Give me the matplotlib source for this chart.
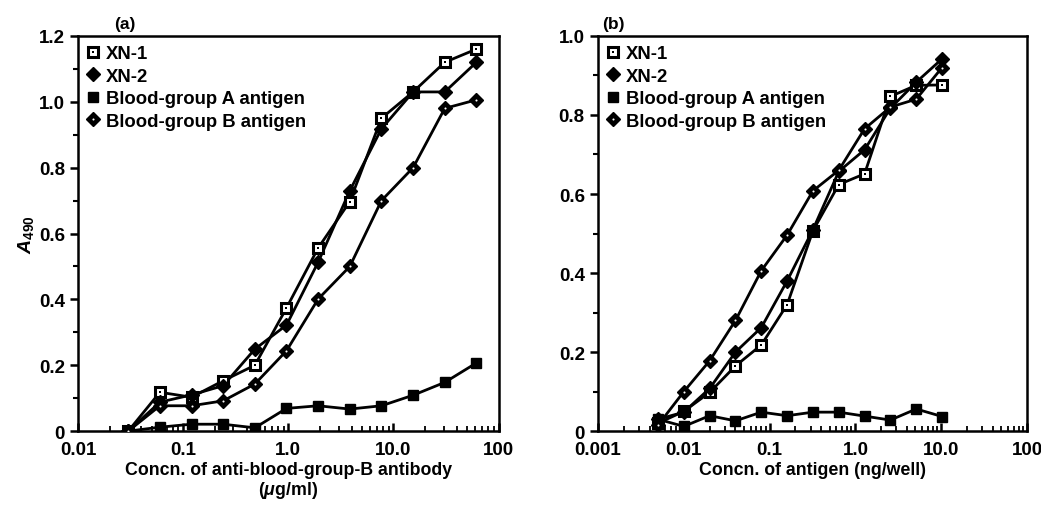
import matplotlib.pyplot as plt
import numpy as np
from matplotlib.ticker import FixedLocator, NullFormatter

plt.rcParams['font.family'] = ['Liberation Sans', 'DejaVu Sans']
plt.rcParams['mathtext.fontset'] = 'custom'
plt.rcParams['mathtext.rm'] = 'Liberation Sans:bold'
plt.rcParams['mathtext.it'] = 'Liberation Sans:italic:bold'
plt.rcParams['mathtext.bf'] = 'Liberation Sans:bold'

# (a) anti-blood-group-B antibody, ug/ml
conc_a = [0.03, 0.06, 0.12, 0.24, 0.48, 0.96, 1.92, 3.84, 7.68, 15.36, 30.72, 61.44]
xn1_a = [0.0, 0.118, 0.103, 0.153, 0.20, 0.374, 0.556, 0.697, 0.95, 1.03, 1.12, 1.16]
xn2_a = [0.0, 0.088, 0.11, 0.138, 0.249, 0.322, 0.513, 0.73, 0.918, 1.03, 1.03, 1.12]
bga_a = [0.0, 0.012, 0.021, 0.021, 0.01, 0.069, 0.077, 0.067, 0.077, 0.109, 0.148, 0.207]
bgb_a = [0.0, 0.077, 0.077, 0.092, 0.143, 0.244, 0.401, 0.50, 0.70, 0.80, 0.98, 1.006]

# (b) antigen, ng/well
conc_b = [0.005, 0.01, 0.02, 0.04, 0.08, 0.16, 0.32, 0.64, 1.28, 2.56, 5.12, 10.24]
xn1_b = [0.02, 0.05, 0.098, 0.165, 0.218, 0.32, 0.507, 0.624, 0.651, 0.847, 0.875, 0.876]
xn2_b = [0.03, 0.048, 0.108, 0.20, 0.262, 0.38, 0.51, 0.657, 0.712, 0.817, 0.883, 0.942]
bga_b = [0.03, 0.012, 0.039, 0.026, 0.048, 0.039, 0.048, 0.048, 0.038, 0.028, 0.056, 0.037]
bgb_b = [0.015, 0.10, 0.178, 0.28, 0.406, 0.496, 0.608, 0.66, 0.765, 0.82, 0.84, 0.92]

labels = ['XN-1', 'XN-2', 'Blood-group A antigen', 'Blood-group B antigen']

fig = plt.figure(figsize=(10.41, 5.06), dpi=100)
ax_a = fig.add_axes([0.075, 0.146, 0.404, 0.781])
ax_b = fig.add_axes([0.5745, 0.146, 0.412, 0.781])

lw = 2.0


def draw(ax, x, s1, s2, sa, sb):
    handles = []
    # XN-1: open square with a dot in it
    ax.plot(x, s1, '-', color='black', lw=lw, zorder=2)
    h1 = ax.plot(x, s1, 's', ms=7, mfc='white', mec='black', mew=2.2, ls='none', zorder=3)[0]
    h1b = ax.plot(x, s1, 's', ms=1.6, mew=0, color='black', ls='none', zorder=4)[0]
    handles.append((h1, h1b))
    # XN-2: filled diamond
    ax.plot(x, s2, '-', color='black', lw=lw, zorder=2)
    h2 = ax.plot(x, s2, 'D', ms=7.2, color='black', ls='none', zorder=3)[0]
    handles.append(h2)
    # blood-group A: filled square
    ax.plot(x, sa, '-', color='black', lw=lw, zorder=2)
    h3 = ax.plot(x, sa, 's', ms=7.5, color='black', ls='none', zorder=3)[0]
    handles.append(h3)
    # blood-group B: black diamond with white dot
    ax.plot(x, sb, '-', color='black', lw=lw, zorder=2)
    h4 = ax.plot(x, sb, 'D', ms=7.2, color='black', ls='none', zorder=3)[0]
    h4b = ax.plot(x, sb, 'o', ms=1.5, mew=0, color='white', ls='none', zorder=4)[0]
    handles.append((h4, h4b))
    leg = ax.legend(handles, labels, loc='upper left', frameon=False,
                    fontsize=13.3, handlelength=0.6, handletextpad=0.4,
                    labelspacing=0.3, borderaxespad=0.1,
                    bbox_to_anchor=(0.0, 1.0))
    for t in leg.get_texts():
        t.set_fontweight('bold')


draw(ax_a, conc_a, xn1_a, xn2_a, bga_a, bgb_a)
draw(ax_b, conc_b, xn1_b, xn2_b, bga_b, bgb_b)

for ax in (ax_a, ax_b):
    ax.set_xscale('log')
    for sp in ax.spines.values():
        sp.set_linewidth(1.8)
    ax.tick_params(axis='y', direction='out', length=6, width=1.8, labelsize=13.5)
    ax.tick_params(axis='y', which='minor', direction='out', length=3.5, width=1.5)
    ax.tick_params(axis='x', which='major', direction='in', length=6, width=1.8,
                   labelsize=13.5, pad=7)
    ax.tick_params(axis='x', which='minor', direction='in', length=3.5, width=1.3)

# panel (a) axes
ax_a.set_xlim(0.01, 100)
ax_a.set_ylim(0, 1.2)
ax_a.xaxis.set_major_locator(FixedLocator([0.01, 0.1, 1, 10, 100]))
ax_a.set_xticklabels(['0.01', '0.1', '1.0', '10.0', '100'], fontweight='bold')
ax_a.xaxis.set_minor_formatter(NullFormatter())
ax_a.set_yticks([0, 0.2, 0.4, 0.6, 0.8, 1.0, 1.2])
ax_a.set_yticklabels(['0', '0.2', '0.4', '0.6', '0.8', '1.0', '1.2'], fontweight='bold')
ax_a.set_yticks(np.arange(0.1, 1.2, 0.2), minor=True)
ax_a.set_xlabel('Concn. of anti-blood-group-B antibody\n($\\mu$g/ml)',
                fontsize=12.8, fontweight='bold', labelpad=2, linespacing=1.1)
ax_a.set_ylabel('$\\mathit{A}_{490}$', fontsize=14, labelpad=2)
ax_a.text(0.085, 1.012, '(a)', transform=ax_a.transAxes, fontsize=12.5,
          fontweight='bold', va='bottom')

# panel (b) axes
ax_b.set_xlim(0.001, 100)
ax_b.set_ylim(0, 1.0)
ax_b.xaxis.set_major_locator(FixedLocator([0.001, 0.01, 0.1, 1, 10, 100]))
ax_b.set_xticklabels(['0.001', '0.01', '0.1', '1.0', '10.0', '100'], fontweight='bold')
ax_b.xaxis.set_minor_formatter(NullFormatter())
ax_b.set_yticks([0, 0.2, 0.4, 0.6, 0.8, 1.0])
ax_b.set_yticklabels(['0', '0.2', '0.4', '0.6', '0.8', '1.0'], fontweight='bold')
ax_b.set_yticks(np.arange(0.1, 1.0, 0.2), minor=True)
ax_b.set_xlabel('Concn. of antigen (ng/well)', fontsize=12.8, fontweight='bold', labelpad=2)
ax_b.text(0.01, 1.012, '(b)', transform=ax_b.transAxes, fontsize=12.5,
          fontweight='bold', va='bottom')

fig.savefig('out.png', dpi=100)
